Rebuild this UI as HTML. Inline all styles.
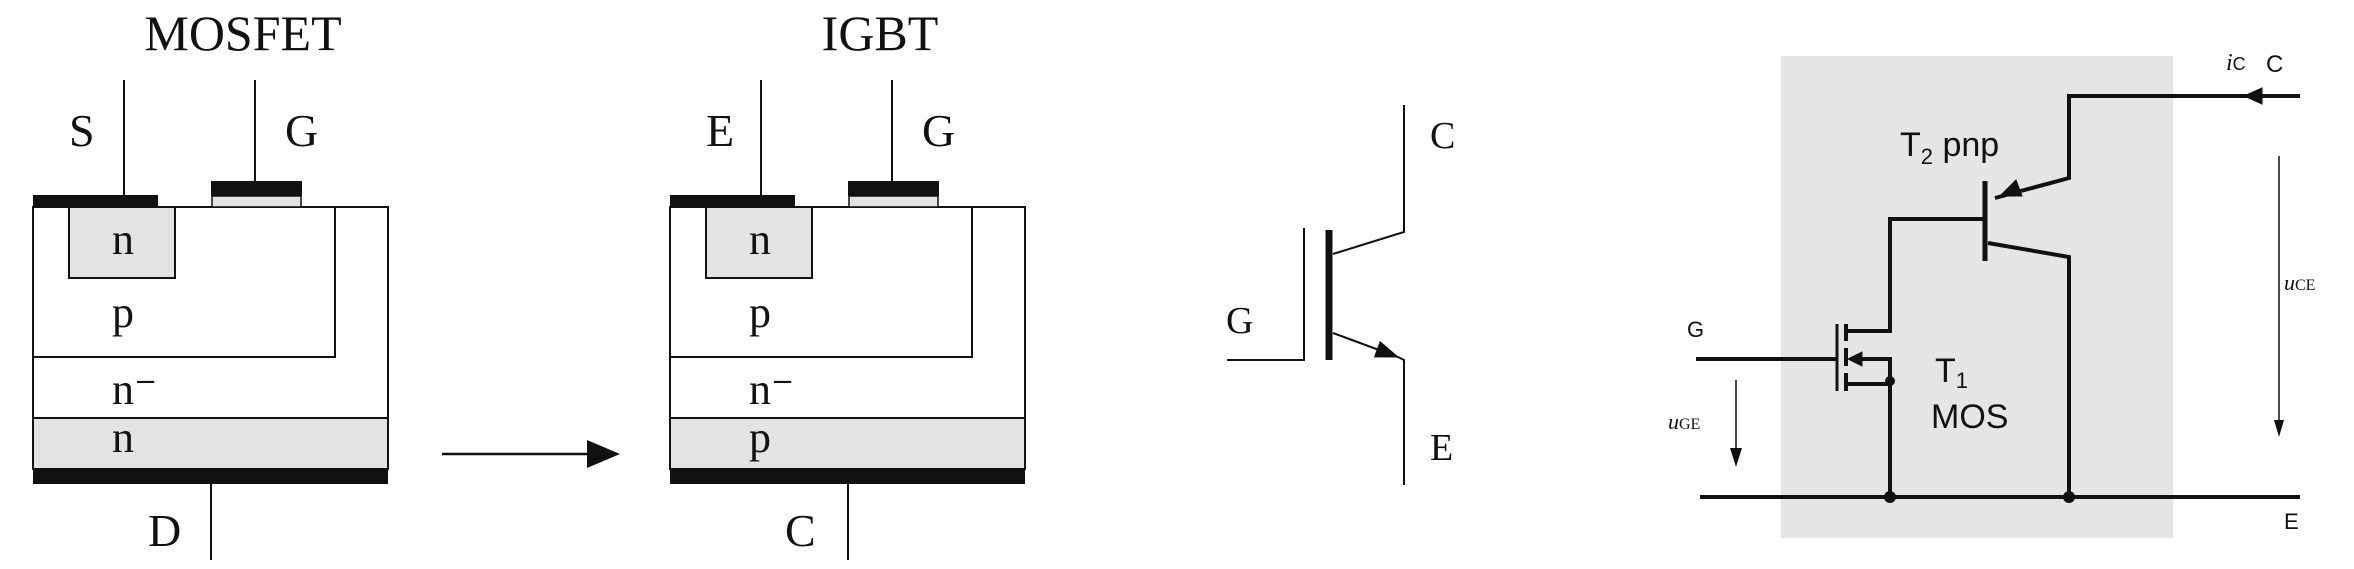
<!DOCTYPE html>
<html><head><meta charset="utf-8"><style>
html,body{margin:0;padding:0;background:#fff;}
svg{display:block}
.s{font-family:"Liberation Serif",serif;fill:#111}
.a{font-family:"Liberation Sans",sans-serif;fill:#111}
</style></head><body>
<svg width="2354" height="569" viewBox="0 0 2354 569">
<!-- MOSFET structure -->
<g stroke="#111" stroke-width="2">
<text class="s" x="243" y="50" font-size="50" text-anchor="middle" stroke="none">MOSFET</text>
<text class="s" x="69" y="146" font-size="46" stroke="none">S</text>
<text class="s" x="285" y="146" font-size="46" stroke="none">G</text>
<line x1="124" y1="80" x2="124" y2="196"/>
<line x1="255" y1="80" x2="255" y2="182"/>
<rect x="33" y="207" width="355" height="262" fill="#fff"/>
<rect x="33" y="418" width="355" height="51" fill="#e3e3e3"/>
<path d="M33,357 H335 V207" fill="none"/>
<rect x="69" y="207" width="106" height="71" fill="#e3e3e3"/>
<rect x="33" y="195" width="125" height="13" fill="#111" stroke="none"/>
<rect x="211" y="181" width="91" height="15" fill="#111" stroke="none"/>
<rect x="212" y="196" width="89" height="11" fill="#e3e3e3" stroke-width="1.5"/>
<rect x="33" y="469" width="355" height="15" fill="#111" stroke="none"/>
<line x1="211" y1="484" x2="211" y2="560"/>
<text class="s" x="112" y="254" font-size="44" stroke="none">n</text>
<text class="s" x="112" y="327" font-size="44" stroke="none">p</text>
<text class="s" x="112" y="404" font-size="44" stroke="none">n⁻</text>
<text class="s" x="112" y="452" font-size="44" stroke="none">n</text>
<text class="s" x="148" y="546" font-size="46" stroke="none">D</text>
</g>
<line x1="442" y1="454" x2="600" y2="454" stroke="#111" stroke-width="2.5"/>
<path d="M587,440 L620,454 L587,468 z" fill="#111"/>
<!-- IGBT structure -->
<g stroke="#111" stroke-width="2" transform="translate(637,0)">
<text class="s" x="243" y="50" font-size="50" text-anchor="middle" stroke="none">IGBT</text>
<text class="s" x="69" y="146" font-size="46" stroke="none">E</text>
<text class="s" x="285" y="146" font-size="46" stroke="none">G</text>
<line x1="124" y1="80" x2="124" y2="196"/>
<line x1="255" y1="80" x2="255" y2="182"/>
<rect x="33" y="207" width="355" height="262" fill="#fff"/>
<rect x="33" y="418" width="355" height="51" fill="#e3e3e3"/>
<path d="M33,357 H335 V207" fill="none"/>
<rect x="69" y="207" width="106" height="71" fill="#e3e3e3"/>
<rect x="33" y="195" width="125" height="13" fill="#111" stroke="none"/>
<rect x="211" y="181" width="91" height="15" fill="#111" stroke="none"/>
<rect x="212" y="196" width="89" height="11" fill="#e3e3e3" stroke-width="1.5"/>
<rect x="33" y="469" width="355" height="15" fill="#111" stroke="none"/>
<line x1="211" y1="484" x2="211" y2="560"/>
<text class="s" x="112" y="254" font-size="44" stroke="none">n</text>
<text class="s" x="112" y="327" font-size="44" stroke="none">p</text>
<text class="s" x="112" y="404" font-size="44" stroke="none">n⁻</text>
<text class="s" x="112" y="452" font-size="44" stroke="none">p</text>
<text class="s" x="148" y="546" font-size="46" stroke="none">C</text>
</g>
<!-- IGBT symbol -->
<g stroke="#111" stroke-width="2" fill="none">
<path d="M1404,105 V232 L1333,254"/>
<line x1="1329" y1="230" x2="1329" y2="360" stroke-width="7"/>
<path d="M1304,228 V360 H1227"/>
<line x1="1333" y1="333" x2="1398" y2="357"/>
<path d="M1398,357 L1374.6,356.9 L1380.2,341.9 z" fill="#111" stroke-width="1"/>
<path d="M1398,357 L1404,360 V485"/>
<text class="s" x="1430" y="148" font-size="38" stroke="none" fill="#111">C</text>
<text class="s" x="1430" y="460" font-size="38" stroke="none" fill="#111">E</text>
<text class="s" x="1226" y="333" font-size="38" stroke="none" fill="#111">G</text>
</g>
<!-- Equivalent circuit -->
<g>
<rect x="1781" y="56" width="392" height="482" fill="#e5e5e5"/>
<g stroke="#111" stroke-width="4" fill="none">
<path d="M2300,96 H2069 V178 L1995,198"/>
<path d="M2000,196 L2016,180 L2022,196 z" fill="#111" stroke-width="1"/>
<path d="M2244,96 L2262,88 L2262,104 z" fill="#111" stroke-width="1"/>
<line x1="1985" y1="181" x2="1985" y2="261" stroke-width="5"/>
<path d="M1985,219 H1890 V331 H1846"/>
<path d="M1988,243 L2069,257 V497"/>
<line x1="1700" y1="497" x2="2300" y2="497"/>
<line x1="1696" y1="359" x2="1837" y2="359"/>
<line x1="1837" y1="324" x2="1837" y2="391" stroke-width="3"/>
<path d="M1846,324 V341 M1846,348 V366 M1846,373 V391" stroke-width="4"/>
<path d="M1846,384 H1890 V497"/>
<path d="M1890,384 V359 H1860"/>
<path d="M1848,359 L1862,352 L1862,366 z" fill="#111" stroke-width="1"/>
</g>
<circle cx="1890" cy="381" r="5" fill="#111"/>
<circle cx="1890" cy="497" r="6" fill="#111"/>
<circle cx="2069" cy="497" r="6" fill="#111"/>
<line x1="2279" y1="156" x2="2279" y2="425" stroke="#111" stroke-width="1.5"/>
<path d="M2274,420 L2279,437 L2284,420 z" fill="#111"/>
<line x1="1736" y1="380" x2="1736" y2="452" stroke="#111" stroke-width="1.5"/>
<path d="M1730,448 L1736,467 L1742,448 z" fill="#111"/>
<text class="a" x="1687" y="337" font-size="22">G</text>
<text class="a" x="1935" y="382" font-size="34">T<tspan font-size="22" dy="6">1</tspan></text>
<text class="a" x="1931" y="428" font-size="34">MOS</text>
<text class="a" x="1900" y="156" font-size="34">T<tspan font-size="22" dy="8">2</tspan><tspan dy="-8"> pnp</tspan></text>
<text class="s" x="2226" y="70" font-size="24" font-style="italic">i<tspan font-style="normal" font-size="18" font-family="Liberation Sans">C</tspan></text>
<text class="a" x="2266" y="72" font-size="24">C</text>
<text class="s" x="2284" y="290" font-size="22" font-style="italic">u<tspan font-style="normal" font-size="16">CE</tspan></text>
<text class="s" x="1668" y="429" font-size="22" font-style="italic">u<tspan font-style="normal" font-size="16">GE</tspan></text>
<text class="a" x="2284" y="529" font-size="22">E</text>
</g>
</svg>
</body></html>
